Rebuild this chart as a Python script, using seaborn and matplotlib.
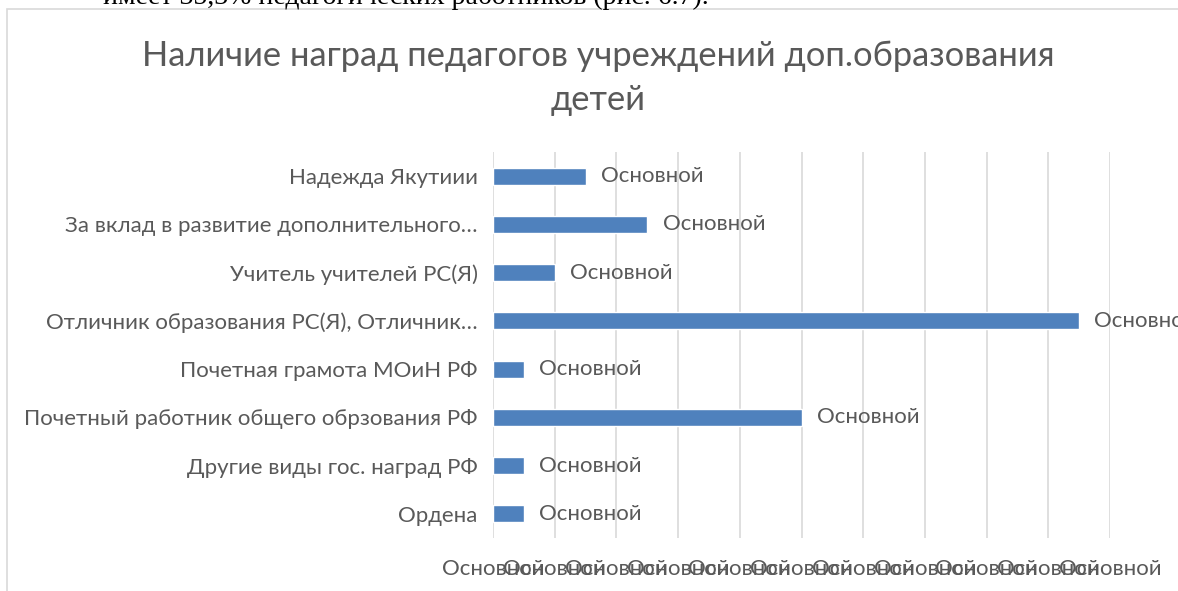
import matplotlib
matplotlib.use("Agg")
import matplotlib.pyplot as plt
import seaborn as sns
import pandas as pd

# ── data ─────────────────────────────────────────────
categories = [
    "Надежда Якутиии",
    "За вклад в развитие дополнительного…",
    "Учитель учителей РС(Я)",
    "Отличник образования РС(Я), Отличник…",
    "Почетная грамота МОиН РФ",
    "Почетный работник общего обрзования РФ",
    "Другие виды гос. наград РФ",
    "Ордена",
]
values = [1.5, 2.5, 1.0, 9.5, 0.5, 5.0, 0.5, 0.5]
tick_values = list(range(0, 11))
tick_labels = ["Основной"] * len(tick_values)
bar_labels = ["Основной"] * len(categories)

title = "Наличие наград педагогов учреждений доп.образования\nдетей"
body_text = "имеет 35,3% педагогических работников (рис. 6.7)."

BAR = "#4F81BD"
TXT = "#595959"
GRID = "#D9D9D9"

sns.set_style("white")
plt.rcParams["font.family"] = ["Lato", "DejaVu Sans"]

W, H = 1178, 591
fig = plt.figure(figsize=(W / 100, H / 100), dpi=100)

# chart frame
frame = plt.Rectangle((7 / W, -0.1), 1.2, (H - 9) / H + 0.1, transform=fig.transFigure,
                      fill=False, edgecolor=GRID, linewidth=1.2)
fig.add_artist(frame)

# cropped body text above the chart
fig.text(103 / W, 1 + 3 / H, body_text, fontsize=20, family="Liberation Serif",
         color="black", va="center", ha="left")

ax = fig.add_axes([493 / W, 53 / H, 617 / W, 386 / H])
df = pd.DataFrame({"cat": categories, "val": values})
sns.barplot(data=df, x="val", y="cat", color=BAR, saturation=1, width=0.35, ax=ax)

ax.set_xlim(0, 10)
ax.set_xticks(tick_values)
ax.set_xticklabels(tick_labels)
ax.xaxis.grid(True, color=GRID, linewidth=1.2)
ax.set_axisbelow(True)
for s in ax.spines.values():
    s.set_visible(False)
ax.tick_params(axis="x", length=0, pad=15, labelsize=16, labelcolor=TXT)
ax.tick_params(axis="y", length=0, pad=11, labelsize=16, labelcolor=TXT)
ax.set_xlabel("")
ax.set_ylabel("")

ax.bar_label(ax.containers[0], labels=bar_labels, padding=11, fontsize=16,
             color=TXT, clip_on=False)

fig.text(598 / W, 1 - 78 / H, title, ha="center", va="center", fontsize=24.8,
         color=TXT, linespacing=1.5)

fig.savefig("out.png", dpi=100)
